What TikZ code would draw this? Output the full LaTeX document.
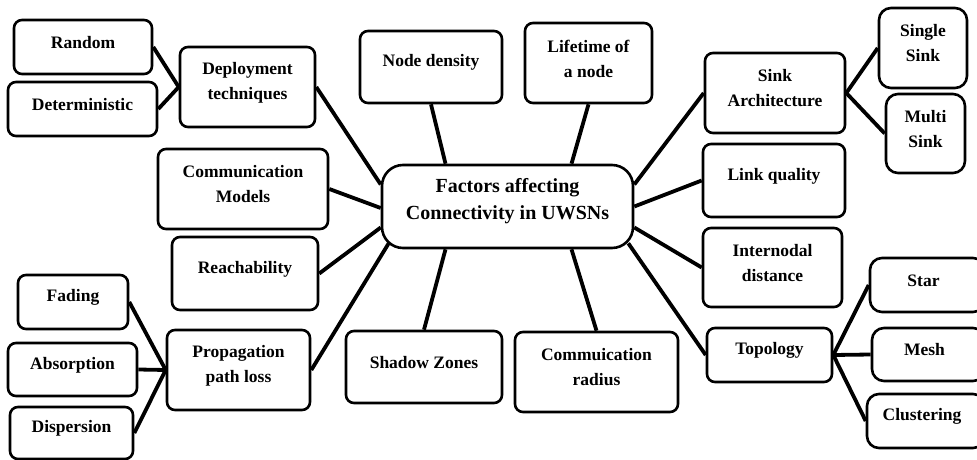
\documentclass[tikz,border=0pt]{standalone}
\usepackage{fontspec}
\setmainfont{Liberation Serif}
\begin{document}
\begin{tikzpicture}[x=1pt,y=-1pt,
  box/.style={draw, line width=2.6pt, rounded corners=8pt, inner sep=0pt},
  txt/.style={font=\bfseries\fontsize{17.5}{25}\selectfont, align=center, inner sep=0pt, yshift=4.5pt},
  hubtxt/.style={font=\bfseries\fontsize{20}{27}\selectfont, align=center, inner sep=0pt, yshift=5pt},
  wire/.style={line width=3.8pt}]

% box from its corners: [options]{name}{x1}{y1}{x2}{y2}{text}
\newcommand{\factorbox}[7][]{%
  \node[box, #1, minimum width={#5-#3}, minimum height={#6-#4},
        label={[txt]center:{#7}}] (#2) at ({(#3+#5)/2},{(#4+#6)/2}) {};}

\useasboundingbox (0,0) rectangle (977,460);

% central topic
\node[box, rounded corners=21pt, minimum width=251, minimum height=83,
      label={[hubtxt]center:{Factors affecting\\Connectivity in UWSNs}}]
      (hub) at (507.5,206.5) {};

% left side
\factorbox{random}{14}{20}{152}{74}{Random}
\factorbox{determ}{8}{82}{157}{136}{Deterministic}
\factorbox{deploy}{180}{47}{315}{127}{Deployment\\techniques}
\factorbox{models}{158}{149}{328}{229}{Communication\\Models}
\factorbox{reach}{172}{237}{318}{310}{Reachability}
\factorbox{fading}{18}{275}{128}{329}{Fading}
\factorbox{absorp}{8}{343}{137}{396}{Absorption}
\factorbox{dispers}{10}{407}{133}{459}{Dispersion}
\factorbox{prop}{167}{330}{310}{410}{Propagation\\path loss}

% top and bottom
\factorbox{density}{360}{31}{502}{103}{Node density}
\factorbox{lifetime}{525}{23}{652}{103}{Lifetime of\\a node}
\factorbox{shadow}{346}{331}{502}{403}{Shadow Zones}
\factorbox{radius}{515}{332}{678}{412}{Commuication\\radius}

% right side
\factorbox{sinkarch}{705}{53}{845}{133}{Sink\\Architecture}
\factorbox[rounded corners=12pt]{single}{879}{8}{967}{88}{Single\\Sink}
\factorbox[rounded corners=12pt]{multi}{886}{94}{965}{173}{Multi\\Sink}
\factorbox{linkq}{703}{144}{845}{217}{Link quality}
\factorbox{internodal}{703}{228}{842}{307}{Internodal\\distance}
\factorbox{topology}{707}{328}{832}{382}{Topology}
\factorbox[rounded corners=12pt]{star}{870}{258}{985}{312}{\hspace*{-8pt}Star}
\factorbox[rounded corners=12pt]{mesh}{872}{328}{985}{381}{\hspace*{-8pt}Mesh}
\factorbox[rounded corners=12pt]{cluster}{867}{394}{985}{448}{\hspace*{-8pt}Clustering}

% connectors, left
\draw[wire] (random.east) -- (deploy.west);
\draw[wire] (determ.east) -- (deploy.west);
\draw[wire] (deploy.east) -- ([yshift=22pt]hub.west);
\draw[wire] (models.east) -- ([yshift=-1.5pt]hub.west);
\draw[wire] (reach.east) -- ([yshift=-21pt]hub.west);
\draw[wire] (prop.east) -- ([xshift=8pt,yshift=6pt]hub.south west);
\draw[wire] (fading.east) -- (prop.west);
\draw[wire] (absorp.east) -- (prop.west);
\draw[wire] (dispers.east) -- (prop.west);

% connectors, top and bottom
\draw[wire] (density.south) -- ([xshift=-62pt]hub.north);
\draw[wire] (lifetime.south) -- ([xshift=64pt]hub.north);
\draw[wire] (shadow.north) -- ([xshift=-62pt]hub.south);
\draw[wire] (radius.north) -- ([xshift=64pt]hub.south);

% connectors, right
\draw[wire] (sinkarch.west) -- ([yshift=22pt]hub.east);
\draw[wire] (linkq.west) -- (hub.east);
\draw[wire] (internodal.west) -- ([yshift=-21pt]hub.east);
\draw[wire] (topology.west) -- ([xshift=-6pt,yshift=6pt]hub.south east);
\draw[wire] (sinkarch.east) -- (single.west);
\draw[wire] (sinkarch.east) -- (multi.west);
\draw[wire] (topology.east) -- (star.west);
\draw[wire] (topology.east) -- (mesh.west);
\draw[wire] (topology.east) -- (cluster.west);
\end{tikzpicture}
\end{document}
